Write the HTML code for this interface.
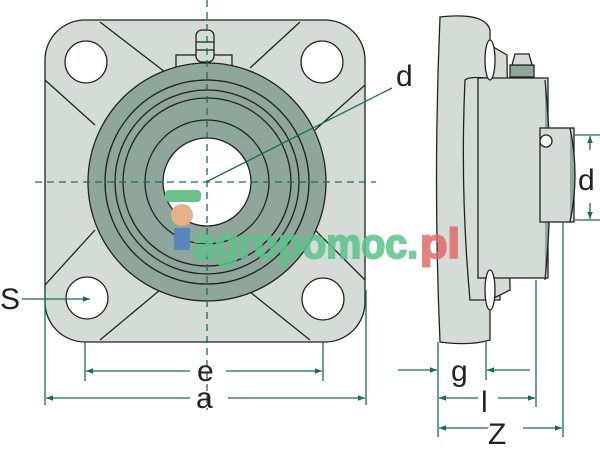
<!DOCTYPE html>
<html><head><meta charset="utf-8"><style>html,body{margin:0;padding:0;background:#fff}svg{display:block}</style></head>
<body>
<svg width="600" height="454" viewBox="0 0 600 454" xmlns="http://www.w3.org/2000/svg" font-family="Liberation Sans, sans-serif">
<defs>
<marker id="ar" viewBox="0 0 10 10" refX="10" refY="5" markerWidth="9" markerHeight="7" orient="auto-start-reverse" markerUnits="userSpaceOnUse"><path d="M0,1 L10,5 L0,9 z" fill="#1a6e50"/></marker>
</defs>
<g stroke="#222" stroke-width="1.3">
<rect x="45" y="20" width="320" height="322" rx="40" fill="#d5dcd8"/>
<path d="M100,22 L165,72 M45,80 L95,125 M300,22 L250,68 M365,85 L315,130 M45,285 L95,230 M100,340 L160,290 M365,280 L315,230 M310,340 L250,292" fill="none"/>
<circle cx="86" cy="62" r="21" fill="#fff"/>
<circle cx="322" cy="62" r="21" fill="#fff"/>
<circle cx="87" cy="298" r="21" fill="#fff"/>
<circle cx="323" cy="299" r="21" fill="#fff"/>
<rect x="176" y="55" width="56" height="12" fill="#d5dcd8"/>
<rect x="196" y="30" width="18" height="32" rx="6" fill="#d5dcd8"/>
<path d="M196,42 h18 M196,50 h18" fill="none"/>
<circle cx="207" cy="182" r="119" fill="#8ea69b"/>
<circle cx="207" cy="182" r="102" fill="none"/>
<circle cx="207" cy="182" r="92" fill="none"/>
<circle cx="207" cy="182" r="84" fill="none"/>
<circle cx="207" cy="182" r="62" fill="none"/>
<circle cx="207" cy="182" r="44" fill="#fff"/>
</g>
<g stroke="#1a6e50" stroke-width="1.3" stroke-dasharray="7,5" fill="none">
<line x1="35" y1="182" x2="376" y2="182"/>
<line x1="207" y1="0" x2="207" y2="410"/>
</g>
<g stroke="#1a6e50" stroke-width="1.3" fill="none">
<line x1="392" y1="88" x2="208" y2="181"/>
<line x1="22" y1="299" x2="90" y2="299" marker-end="url(#ar)"/>
<line x1="85" y1="342" x2="85" y2="381"/>
<line x1="323" y1="342" x2="323" y2="381"/>
<line x1="45" y1="290" x2="45" y2="405"/>
<line x1="366" y1="290" x2="366" y2="405"/>
<line x1="86" y1="371" x2="190" y2="371" marker-start="url(#ar)"/>
<line x1="226" y1="371" x2="322" y2="371" marker-end="url(#ar)"/>
<line x1="46" y1="398" x2="190" y2="398" marker-start="url(#ar)"/>
<line x1="228" y1="398" x2="365" y2="398" marker-end="url(#ar)"/>
</g>
<g font-size="30" fill="#222">
<text x="396" y="86">d</text>
<text x="0" y="309">S</text>
<text x="197" y="381">e</text>
<text x="196" y="408">a</text>
</g>
<g stroke="#222" stroke-width="1.3" fill="#d5dcd8">
<path d="M440,17 Q485,12 490,30 L490,340 Q470,346 440,342 Q433,180 440,17 z"/>
<path d="M465,80 Q470,75 500,80 L500,300 L470,300 Q460,190 465,80 z"/>
<path d="M490,45 L507,55 L510,290 L490,300 z"/>
<rect x="478" y="78" width="70" height="200" fill="#d5dcd8"/>
<ellipse cx="490" cy="60" rx="5" ry="20" fill="#fff"/>
<ellipse cx="490" cy="290" rx="5" ry="20" fill="#fff"/>
<path d="M545,80 Q555,180 545,280" fill="#8ea69b"/>
<rect x="540" y="128" width="34" height="94" fill="#d5dcd8"/>
<path d="M570,128 Q580,175 570,222" fill="#8ea69b"/>
<circle cx="546" cy="141" r="6" fill="#fff"/>
<rect x="510" y="65" width="24" height="12" fill="#8ea69b"/>
<path d="M512,65 L515,54 L529,54 L532,65 z"/>
</g>
<g>
<circle cx="182" cy="215" r="11" fill="#e8b08a"/>
<rect x="165" y="190" width="36" height="12" rx="4" fill="#6cc08a"/>
<rect x="174" y="228" width="16" height="22" fill="#5a86c0"/>
<text x="193" y="258" font-size="42" font-weight="bold" fill="#5cc48a" stroke="#5cc48a" stroke-width="2" opacity="0.85" textLength="225" lengthAdjust="spacingAndGlyphs">agropomoc.</text>
<text x="420" y="258" font-size="42" font-weight="bold" fill="#e06a6a" stroke="#e06a6a" stroke-width="2" opacity="0.85" textLength="40" lengthAdjust="spacingAndGlyphs">pl</text>
</g>
<g stroke="#1a6e50" stroke-width="1.3" fill="none">
<line x1="574" y1="135" x2="600" y2="135"/>
<line x1="574" y1="220" x2="600" y2="220"/>
<line x1="590" y1="150" x2="590" y2="136" marker-end="url(#ar)"/>
<line x1="590" y1="203" x2="590" y2="219" marker-end="url(#ar)"/>
<line x1="438" y1="342" x2="438" y2="437"/>
<line x1="486" y1="342" x2="486" y2="380"/>
<line x1="536" y1="280" x2="536" y2="407"/>
<line x1="563" y1="222" x2="563" y2="437"/>
<line x1="398" y1="370" x2="437" y2="370" marker-end="url(#ar)"/>
<line x1="530" y1="370" x2="487" y2="370" marker-end="url(#ar)"/>
<line x1="439" y1="398" x2="478" y2="398" marker-start="url(#ar)"/>
<line x1="498" y1="398" x2="535" y2="398" marker-end="url(#ar)"/>
<line x1="439" y1="428" x2="488" y2="428" marker-start="url(#ar)"/>
<line x1="523" y1="428" x2="562" y2="428" marker-end="url(#ar)"/>
</g>
<g font-size="30" fill="#222">
<text x="578" y="190">d</text>
<text x="451" y="381">g</text>
<text x="481" y="412">l</text>
<text x="488" y="444">Z</text>
</g>
</svg>
</body></html>
